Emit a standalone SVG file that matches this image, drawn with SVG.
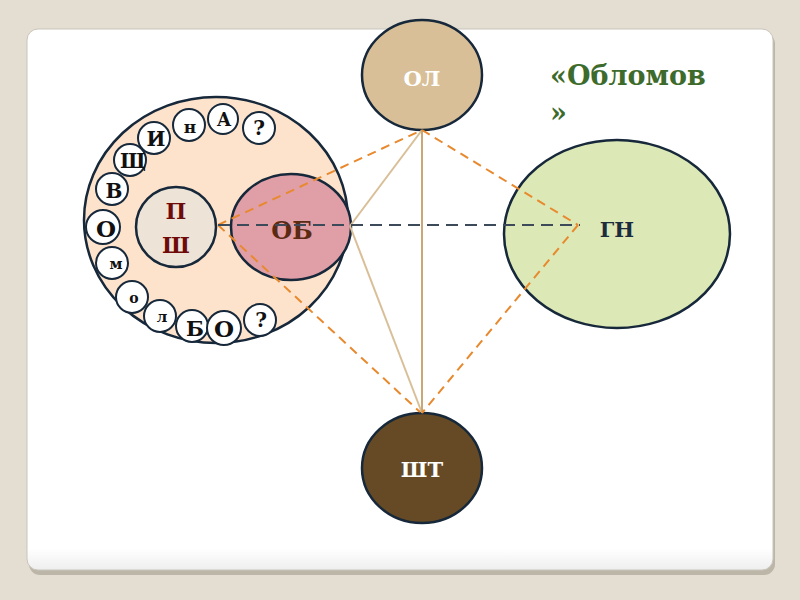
<svg xmlns="http://www.w3.org/2000/svg" width="800" height="600" viewBox="0 0 800 600">
<defs>
<linearGradient id="pg" x1="0" y1="0" x2="0" y2="1">
<stop offset="0.96" stop-color="#ffffff"/>
<stop offset="1" stop-color="#eeeeee"/>
</linearGradient>
</defs>
<style>
.ol{stroke:#16283a;stroke-width:2.5}
.sc{fill:#ffffff;stroke:#16283a;stroke-width:2}
.lt{font-family:"DejaVu Serif",serif;font-weight:bold;fill:#111;text-anchor:middle;dominant-baseline:central}
.nt{font-family:"DejaVu Serif",serif;font-weight:bold;text-anchor:middle;dominant-baseline:central}
.od{stroke:#e8892e;stroke-width:2;stroke-dasharray:9,6;fill:none}
.gd{stroke:#3d4a5a;stroke-width:2;stroke-dasharray:12,7;fill:none}
.tn{stroke:#d9bf98;stroke-width:2;fill:none}
.ti{font-family:"DejaVu Serif",serif;font-weight:bold;font-size:27px;fill:#3d6b2c}
</style>
<rect width="800" height="600" fill="#e4ddd1"/>
<rect x="29" y="33" width="746" height="542" rx="11" fill="#a9a596" opacity="0.7"/>
<rect x="27" y="29" width="746" height="541" rx="11" fill="url(#pg)" stroke="#c9c5bb" stroke-width="1"/>

<g id="node-big"><ellipse cx="216" cy="220" rx="132" ry="123" fill="#fde3cb" class="ol"/></g>
<g id="node-pw"><circle cx="176" cy="227" r="40" fill="#ede3d6" class="ol"/>
<text class="nt" x="176" y="211" font-size="22" fill="#6e0a0a">П</text>
<text class="nt" x="176" y="245" font-size="22" fill="#6e0a0a">Ш</text></g>
<g id="node-ob"><ellipse cx="291" cy="227" rx="60" ry="53" fill="#e09ea6" class="ol"/>
<text class="nt" x="292" y="230" font-size="24" fill="#5a2a12">ОБ</text></g>
<g id="node-ol"><ellipse cx="422" cy="75" rx="60" ry="55" fill="#d8bf98" class="ol"/>
<text class="nt" x="422" y="78" font-size="21" fill="#ffffff">ОЛ</text></g>
<g id="node-gn"><ellipse cx="617" cy="234" rx="113" ry="94" fill="#dce9b6" class="ol"/>
<text class="nt" x="617" y="229" font-size="21" fill="#1d2c3c">ГН</text></g>
<g id="node-sht"><ellipse cx="422" cy="468" rx="60" ry="55" fill="#654a25" class="ol"/>
<text class="nt" x="422" y="469" font-size="21" fill="#ffffff">ШТ</text></g>

<g id="letters">
<g id="l1"><circle class="sc" cx="223" cy="119" r="15"/><text class="lt" x="224" y="119" font-size="18">А</text></g>
<g id="l2"><circle class="sc" cx="259" cy="128" r="16"/><text class="lt" x="259" y="128" font-size="20">?</text></g>
<g id="l3"><circle class="sc" cx="189" cy="125" r="16"/><text class="lt" x="190" y="127" font-size="17">н</text></g>
<g id="l4"><circle class="sc" cx="154" cy="138" r="16"/><text class="lt" x="156" y="139" font-size="20">И</text></g>
<g id="l5"><circle class="sc" cx="130" cy="160" r="16"/><text class="lt" x="133" y="161" font-size="20">Щ</text></g>
<g id="l6"><circle class="sc" cx="112" cy="189" r="16"/><text class="lt" x="114" y="191" font-size="20">В</text></g>
<g id="l7"><circle class="sc" cx="103" cy="227" r="17"/><text class="lt" x="106" y="228" font-size="23">О</text></g>
<g id="l8"><circle class="sc" cx="112" cy="263" r="16"/><text class="lt" x="116" y="264" font-size="15">м</text></g>
<g id="l9"><circle class="sc" cx="132" cy="297" r="16"/><text class="lt" x="134" y="298" font-size="14">о</text></g>
<g id="l10"><circle class="sc" cx="160" cy="316" r="16"/><text class="lt" x="162" y="317" font-size="15">л</text></g>
<g id="l11"><circle class="sc" cx="192" cy="326" r="16"/><text class="lt" x="195" y="328" font-size="21">Б</text></g>
<g id="l12"><circle class="sc" cx="224" cy="328" r="17"/><text class="lt" x="224" y="328" font-size="23">О</text></g>
<g id="l13"><circle class="sc" cx="260" cy="320" r="16"/><text class="lt" x="261" y="320" font-size="20">?</text></g>
</g>

<g id="connectors">
<line class="tn" x1="422" y1="130" x2="350" y2="226"/>
<line class="tn" x1="350" y1="226" x2="422" y2="413"/>
<line x1="422" y1="130" x2="422" y2="413" stroke="#c9a776" stroke-width="2"/>
<line class="od" x1="218" y1="225" x2="422" y2="130"/>
<line class="od" x1="218" y1="225" x2="420" y2="412"/>
<line class="od" x1="422" y1="130" x2="578" y2="225"/>
<line class="od" x1="578" y1="225" x2="422" y2="413"/>
<line class="gd" x1="218" y1="225" x2="580" y2="225"/>
</g>

<g id="title">
<text class="ti" x="550" y="85">«Обломов</text>
<text class="ti" x="550" y="122">»</text>
</g>
</svg>
